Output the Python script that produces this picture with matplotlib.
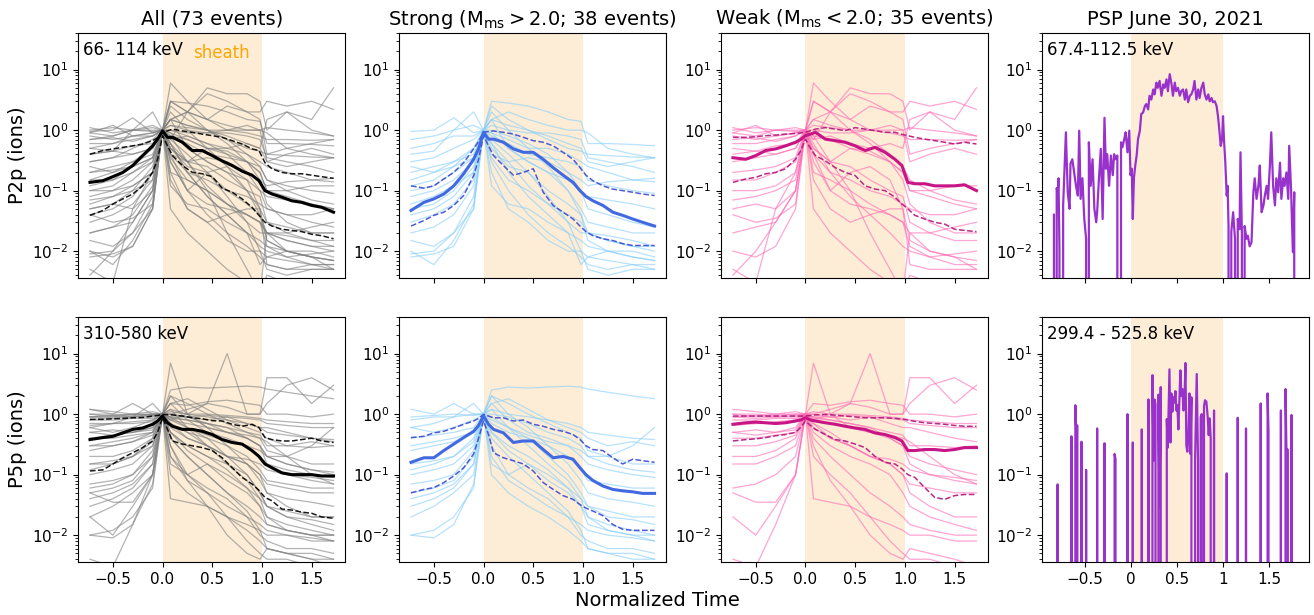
import numpy as np
import matplotlib
matplotlib.use('Agg')
import matplotlib.pyplot as plt

# =============================================================================
# Data (normalized time, intensity normalized at shock)
# =============================================================================

# grid used for the individual event traces
t_ev = [-0.73, -0.5, -0.3, -0.1, 0.0, 0.08, 0.25, 0.45, 0.65, 0.85, 0.98,
        1.05, 1.25, 1.5, 1.72]

# P2p, strong events
p2_strong = [
    [0.95, 1.0, 1.6, 0.9, 1.0, 3.0, 2.8, 2.5, 2.0, 1.5, 1.4, 0.6, 0.6, 0.58, 0.55],
    [0.3, 0.35, 0.5, 0.7, 1.0, 1.5, 1.2, 1.0, 0.8, 0.6, 0.5, 0.3, 0.25, 0.3, 0.35],
    [0.12, 0.15, 0.25, 0.5, 1.0, 0.8, 0.6, 0.4, 0.35, 0.3, 0.25, 0.15, 0.12, 0.1, 0.09],
    [0.05, 0.06, 0.1, 0.25, 1.0, 0.5, 0.25, 0.2, 0.1, 0.06, 0.04, 0.02, 0.015, 0.012, 0.01],
    [0.008, 0.009, 0.012, 0.05, 1.0, 0.3, 0.1, 0.04, 0.02, 0.012, 0.008, 0.006, 0.005, 0.006, 0.005],
    [0.04, 0.05, 0.08, 0.2, 1.0, 0.9, 0.5, 0.3, 0.2, 0.15, 0.1, 0.05, 0.04, 0.03, 0.025],
    [0.08, 0.1, 0.15, 0.3, 1.0, 2.0, 1.0, 0.5, 0.25, 0.1, 0.05, 0.03, 0.025, 0.02, 0.02],
    [0.02, 0.025, 0.04, 0.12, 1.0, 0.6, 0.2, 0.08, 0.04, 0.02, 0.006, 0.008, 0.01, 0.008, 0.007],
    [0.5, 0.6, 0.8, 0.8, 1.0, 1.2, 1.0, 0.9, 0.9, 0.8, 0.7, 0.35, 0.3, 0.25, 0.2],
    [0.015, 0.012, 0.02, 0.08, 1.0, 0.2, 0.05, 0.03, 0.015, 0.01, 0.01, 0.008, 0.007, 0.006, 0.006],
    [0.2, 0.25, 0.3, 0.4, 1.0, 1.0, 0.8, 0.6, 0.4, 0.2, 0.1, 0.08, 0.07, 0.06, 0.05],
    [0.06, 0.08, 0.12, 0.2, 1.0, 0.4, 0.3, 0.35, 0.3, 0.2, 0.15, 0.12, 0.14, 0.15, 0.16],
    [0.01, 0.006, 0.015, 0.06, 1.0, 0.12, 0.06, 0.05, 0.03, 0.02, 0.015, 0.012, 0.01, 0.01, 0.008],
    [0.4, 0.45, 1.0, 1.2, 1.0, 2.5, 1.5, 1.0, 0.7, 0.5, 0.45, 0.4, 0.38, 0.36, 0.35],
    [0.7, 0.8, 1.0, 2.0, 1.0, 1.5, 2.0, 1.5, 1.2, 1.0, 1.0, 0.9, 0.5, 0.4, 0.35],
    [0.25, 0.2, 0.3, 0.5, 1.0, 0.7, 0.4, 0.2, 0.08, 0.03, 0.01, 0.005, 0.004, 0.005, 0.005],
    [0.03, 0.04, 0.06, 0.15, 1.0, 0.35, 0.15, 0.1, 0.06, 0.04, 0.03, 0.02, 0.015, 0.012, 0.012],
    [0.1, 0.12, 0.2, 0.35, 1.0, 0.6, 0.3, 0.12, 0.06, 0.03, 0.02, 0.02, 0.018, 0.015, 0.012],
    [0.009, 0.01, 0.02, 0.05, 1.0, 1.5, 0.5, 0.3, 0.2, 0.1, 0.04, 0.015, 0.01, 0.008, 0.007],
    [0.15, 0.2, 0.25, 0.35, 1.0, 0.9, 0.7, 0.5, 0.5, 0.4, 0.3, 0.25, 0.2, 0.15, 0.14],
]

# P2p, weak events
p2_weak = [
    [1.0, 1.1, 1.0, 1.1, 1.0, 1.2, 1.1, 1.0, 1.0, 0.9, 0.8, 0.7, 0.7, 0.68, 0.7],
    [0.8, 0.7, 0.8, 0.9, 1.0, 3.0, 2.0, 4.0, 3.0, 2.0, 2.0, 3.0, 2.5, 3.0, 2.2],
    [0.3, 0.35, 0.4, 0.5, 1.0, 0.5, 0.3, 0.25, 0.15, 0.1, 0.08, 0.03, 0.02, 0.015, 0.015],
    [0.15, 0.15, 0.2, 0.3, 1.0, 0.15, 0.05, 0.03, 0.04, 0.05, 0.05, 0.006, 0.005, 0.005, 0.005],
    [0.04, 0.03, 0.035, 0.06, 1.0, 0.4, 0.1, 0.06, 0.05, 0.04, 0.03, 0.02, 0.02, 0.025, 0.03],
    [0.005, 0.003, 0.05, 0.2, 1.0, 0.8, 0.3, 0.1, 0.02, 0.005, 0.002, 0.02, 0.01, 0.008, 0.005],
    [0.7, 0.75, 0.65, 0.8, 1.0, 1.0, 0.9, 0.9, 1.0, 1.0, 1.0, 1.1, 1.0, 0.9, 0.8],
    [0.07, 0.08, 0.1, 0.15, 1.0, 0.6, 0.2, 0.15, 0.1, 0.08, 0.06, 0.05, 0.04, 0.04, 0.05],
    [0.5, 0.45, 0.55, 0.6, 1.0, 0.8, 0.7, 0.5, 0.45, 0.3, 0.2, 0.1, 0.1, 0.12, 0.12],
    [1.1, 0.9, 1.0, 0.95, 1.0, 6.0, 3.0, 1.5, 1.0, 1.2, 1.0, 0.3, 0.4, 0.5, 0.4],
    [0.2, 0.22, 0.25, 0.35, 1.0, 1.5, 1.2, 1.0, 0.7, 0.4, 0.25, 0.15, 0.1, 0.07, 0.06],
    [0.02, 0.025, 0.03, 0.1, 1.0, 0.3, 0.1, 0.2, 0.25, 0.15, 0.05, 0.015, 0.01, 0.008, 0.007],
    [0.9, 1.2, 0.8, 0.9, 1.0, 0.7, 2.0, 5.0, 4.0, 4.0, 3.0, 1.0, 2.0, 1.5, 5.0],
    [0.004, 0.01, 0.03, 0.1, 1.0, 0.05, 0.02, 0.01, 0.005, 0.003, 0.002, 0.004, 0.003, 0.002, 0.002],
    [0.6, 0.6, 0.7, 0.8, 1.0, 1.5, 2.0, 1.5, 2.5, 2.0, 1.5, 0.4, 0.5, 0.6, 0.7],
    [0.1, 0.1, 0.12, 0.2, 1.0, 0.5, 0.3, 0.5, 0.4, 0.3, 0.2, 0.1, 0.08, 0.06, 0.05],
    [0.01, 0.008, 0.012, 0.05, 1.0, 0.4, 0.2, 0.08, 0.04, 0.02, 0.012, 0.01, 0.008, 0.009, 0.01],
    [0.9, 0.8, 1.0, 1.0, 1.0, 3.0, 2.0, 1.0, 0.6, 0.3, 0.15, 0.06, 0.03, 0.02, 0.02],
    [0.4, 0.45, 0.4, 0.5, 1.0, 0.7, 0.8, 0.6, 0.5, 0.6, 0.5, 1.5, 2.0, 1.0, 0.8],
    [0.05, 0.06, 0.05, 0.1, 1.0, 0.2, 0.15, 0.1, 0.06, 0.04, 0.03, 0.012, 0.008, 0.006, 0.006],
]

# P5p, strong events
p5_strong = [
    [1.2, 1.0, 1.5, 1.0, 1.0, 2.5, 2.8, 2.7, 2.8, 2.9, 2.8, 2.6, 2.3, 2.0, 1.8],
    [0.9, 0.95, 1.0, 0.95, 1.0, 1.2, 1.0, 0.9, 0.8, 0.7, 0.6, 0.5, 0.45, 0.4, 0.38],
    [0.4, 0.45, 0.5, 0.6, 1.0, 0.7, 0.5, 0.4, 0.3, 0.2, 0.12, 0.08, 0.07, 0.06, 0.06],
    [0.15, 0.17, 0.2, 0.35, 1.0, 0.5, 0.3, 0.2, 0.12, 0.06, 0.03, 0.02, 0.015, 0.012, 0.01],
    [0.05, 0.06, 0.08, 0.2, 1.0, 0.3, 0.1, 0.06, 0.04, 0.02, 0.01, 0.008, 0.006, 0.006, 0.005],
    [0.01, 0.009, 0.015, 0.07, 1.0, 0.2, 0.08, 0.05, 0.03, 0.02, 0.015, 0.012, 0.01, 0.009, 0.008],
    [0.03, 0.04, 0.06, 0.15, 1.0, 2.0, 1.0, 0.6, 0.3, 0.15, 0.08, 0.05, 0.04, 0.035, 0.03],
    [0.6, 0.7, 0.9, 1.5, 1.0, 1.5, 1.8, 1.2, 0.8, 0.6, 0.5, 0.4, 0.3, 0.35, 0.3],
    [0.1, 0.12, 0.15, 0.3, 1.0, 0.8, 0.6, 0.4, 0.2, 0.1, 0.05, 0.03, 0.02, 0.018, 0.015],
    [0.02, 0.03, 0.05, 0.1, 1.0, 0.15, 0.1, 0.15, 0.1, 0.06, 0.04, 0.03, 0.025, 0.02, 0.02],
    [0.25, 0.3, 0.35, 0.5, 1.0, 1.0, 0.9, 0.7, 0.5, 0.4, 0.3, 0.2, 0.15, 0.12, 0.11],
    [0.07, 0.08, 0.1, 0.25, 1.0, 0.4, 0.2, 0.1, 0.05, 0.025, 0.012, 0.006, 0.005, 0.004, 0.004],
    [0.8, 0.9, 0.9, 1.0, 1.0, 2.0, 1.5, 1.0, 0.7, 0.5, 0.4, 0.25, 0.2, 0.15, 0.15],
    [0.3, 0.35, 0.4, 0.5, 1.0, 1.2, 0.6, 0.3, 0.15, 0.08, 0.04, 0.02, 0.012, 0.01, 0.008],
    [0.04, 0.05, 0.07, 0.15, 1.0, 0.5, 0.25, 0.15, 0.08, 0.05, 0.03, 0.015, 0.012, 0.01, 0.01],
    [0.12, 0.15, 0.2, 0.4, 1.0, 1.5, 0.8, 0.5, 0.4, 0.3, 0.2, 0.15, 0.12, 0.1, 0.09],
    [0.6, 0.5, 0.6, 0.8, 1.0, 0.9, 0.6, 0.45, 0.35, 0.3, 0.25, 0.2, 0.2, 0.3, 0.6],
    [0.01, 0.012, 0.02, 0.06, 1.0, 0.1, 0.05, 0.03, 0.02, 0.012, 0.008, 0.006, 0.005, 0.005, 0.004],
]

# P5p, weak events
p5_weak = [
    [1.2, 1.1, 1.0, 1.1, 1.0, 1.5, 1.4, 1.6, 1.7, 1.5, 1.4, 1.0, 1.0, 0.9, 1.0],
    [0.9, 0.95, 0.9, 0.9, 1.0, 7.0, 1.0, 1.5, 10.0, 1.0, 1.0, 4.0, 4.0, 1.5, 3.0],
    [0.8, 0.8, 0.85, 0.85, 1.0, 0.9, 0.8, 0.7, 0.6, 0.5, 0.45, 0.3, 0.3, 0.28, 0.3],
    [0.5, 0.55, 0.5, 0.6, 1.0, 0.7, 0.5, 0.3, 0.2, 0.15, 0.1, 0.07, 0.06, 0.05, 0.05],
    [0.3, 0.3, 0.35, 0.45, 1.0, 0.5, 0.3, 0.2, 0.15, 0.1, 0.05, 0.03, 0.02, 0.015, 0.012],
    [0.05, 0.035, 0.035, 0.1, 1.0, 0.04, 0.035, 0.03, 0.02, 0.015, 0.012, 0.01, 0.01, 0.008, 0.008],
    [0.004, 0.003, 0.015, 0.1, 1.0, 0.2, 0.1, 0.05, 0.02, 0.008, 0.005, 0.004, 0.004, 0.003, 0.003],
    [0.15, 0.15, 0.2, 0.3, 1.0, 0.6, 0.4, 0.3, 0.2, 0.18, 0.15, 0.12, 0.1, 0.09, 0.08],
    [1.0, 1.0, 0.95, 1.0, 1.0, 1.1, 1.0, 1.0, 0.95, 0.9, 0.85, 0.8, 0.75, 0.7, 0.7],
    [0.65, 0.7, 0.7, 0.75, 1.0, 0.85, 0.8, 0.7, 0.6, 0.4, 0.3, 0.2, 0.15, 0.12, 0.1],
    [0.02, 0.01, 0.03, 0.1, 1.0, 0.3, 0.08, 0.03, 0.01, 0.005, 0.004, 0.006, 0.005, 0.004, 0.003],
    [0.4, 0.4, 0.45, 0.5, 1.0, 0.9, 0.9, 0.8, 0.9, 0.7, 0.6, 0.6, 0.5, 0.4, 0.35],
    [1.0, 0.9, 1.0, 1.0, 1.0, 1.0, 1.2, 1.5, 1.3, 1.0, 1.0, 1.5, 3.0, 4.0, 2.5],
    [0.7, 0.7, 0.75, 0.8, 1.0, 0.8, 0.7, 0.6, 0.5, 0.45, 0.4, 0.35, 0.2, 0.1, 0.07],
    [0.2, 0.2, 0.25, 0.4, 1.0, 0.4, 0.2, 0.1, 0.05, 0.03, 0.02, 0.015, 0.012, 0.01, 0.01],
    [0.9, 0.85, 0.9, 0.95, 1.0, 1.0, 0.9, 0.95, 0.9, 0.85, 0.8, 0.7, 0.65, 0.6, 0.6],
    [0.06, 0.07, 0.1, 0.2, 1.0, 0.7, 0.4, 0.3, 0.2, 0.15, 0.1, 0.05, 0.03, 0.02, 0.02],
    [0.5, 0.45, 0.5, 0.55, 1.0, 0.8, 1.0, 0.6, 0.5, 0.4, 0.3, 0.15, 0.1, 0.08, 0.07],
]

# grid used for median / quartile curves
t_st = [-0.73, -0.6, -0.5, -0.4, -0.3, -0.2, -0.1, -0.05, 0.0, 0.05, 0.1, 0.2,
        0.3, 0.4, 0.5, 0.6, 0.7, 0.8, 0.9, 0.97, 1.03, 1.1, 1.2, 1.3, 1.4, 1.5,
        1.6, 1.72]

p2_all_med = [0.137, 0.146, 0.17, 0.2, 0.26, 0.38, 0.55, 0.71, 0.97, 0.76, 0.76, 0.63, 0.46, 0.46,
              0.38, 0.31, 0.26, 0.21, 0.18, 0.146, 0.10, 0.088, 0.078, 0.068, 0.064, 0.057, 0.053, 0.044]
p2_all_q75 = [0.40, 0.46, 0.49, 0.52, 0.55, 0.59, 0.67, 0.75, 0.92, 0.97, 1.04, 0.97, 0.92, 0.86,
              0.81, 0.76, 0.67, 0.59, 0.49, 0.46, 0.29, 0.23, 0.20, 0.19, 0.19, 0.18, 0.17, 0.16]
p2_all_q25 = [0.039, 0.047, 0.06, 0.073, 0.088, 0.12, 0.2, 0.33, 0.81, 0.55, 0.38, 0.26, 0.2, 0.19,
              0.17, 0.11, 0.094, 0.073, 0.053, 0.039, 0.03, 0.026, 0.023, 0.022, 0.021, 0.019, 0.018, 0.016]

p2_str_med = [0.047, 0.064, 0.073, 0.088, 0.12, 0.19, 0.33, 0.49, 0.92, 0.71, 0.71, 0.63, 0.49, 0.43,
              0.43, 0.33, 0.24, 0.18, 0.137, 0.1, 0.08, 0.068, 0.057, 0.044, 0.039, 0.034, 0.030, 0.026]
p2_str_q75 = [0.12, 0.11, 0.12, 0.156, 0.2, 0.29, 0.49, 0.65, 0.92, 0.95, 0.97, 0.92, 0.86, 0.76,
              0.67, 0.63, 0.55, 0.43, 0.33, 0.24, 0.18, 0.146, 0.12, 0.106, 0.1, 0.094, 0.088, 0.083]
p2_str_q25 = [0.026, 0.032, 0.039, 0.044, 0.057, 0.083, 0.177, 0.33, 0.81, 0.55, 0.38, 0.26, 0.18, 0.2,
              0.23, 0.094, 0.057, 0.044, 0.034, 0.026, 0.021, 0.018, 0.016, 0.015, 0.0133, 0.0124, 0.0124, 0.0124]

p2_weak_med = [0.35, 0.33, 0.38, 0.46, 0.49, 0.55, 0.63, 0.7, 0.81, 0.86, 0.92, 0.71, 0.67, 0.63,
               0.55, 0.46, 0.52, 0.43, 0.33, 0.26, 0.137, 0.13, 0.13, 0.12, 0.12, 0.12, 0.125, 0.1]
p2_weak_q75 = [0.76, 0.76, 0.78, 0.81, 0.83, 0.86, 0.88, 0.9, 0.92, 0.98, 1.04, 1.1, 1.04, 0.98,
               1.1, 1.04, 0.98, 0.92, 0.92, 0.85, 0.81, 0.76, 0.71, 0.67, 0.63, 0.59, 0.63, 0.59]
p2_weak_q25 = [0.137, 0.156, 0.166, 0.19, 0.2, 0.23, 0.33, 0.45, 0.71, 0.5, 0.38, 0.31, 0.24, 0.2,
               0.177, 0.12, 0.106, 0.1, 0.078, 0.06, 0.05, 0.039, 0.034, 0.03, 0.028, 0.023, 0.022, 0.021]

p5_all_med = [0.38, 0.41, 0.43, 0.49, 0.56, 0.59, 0.68, 0.77, 0.93, 0.72, 0.63, 0.56, 0.56, 0.52,
              0.46, 0.38, 0.34, 0.32, 0.25, 0.2, 0.15, 0.13, 0.107, 0.10, 0.10, 0.10, 0.095, 0.095]
p5_all_q75 = [0.82, 0.82, 0.84, 0.85, 0.87, 0.88, 0.93, 0.95, 0.99, 0.98, 0.97, 0.93, 0.87, 0.84,
              0.78, 0.77, 0.68, 0.63, 0.68, 0.6, 0.41, 0.38, 0.36, 0.36, 0.38, 0.40, 0.36, 0.34]
p5_all_q25 = [0.115, 0.12, 0.15, 0.19, 0.23, 0.28, 0.36, 0.5, 0.87, 0.56, 0.36, 0.32, 0.3, 0.28,
              0.25, 0.19, 0.13, 0.09, 0.07, 0.055, 0.042, 0.037, 0.027, 0.026, 0.024, 0.023, 0.02, 0.019]

p5_str_med = [0.16, 0.19, 0.19, 0.25, 0.32, 0.41, 0.52, 0.65, 0.93, 0.68, 0.56, 0.49, 0.34, 0.36,
              0.36, 0.26, 0.19, 0.2, 0.18, 0.13, 0.1, 0.08, 0.065, 0.057, 0.054, 0.052, 0.049, 0.049]
p5_str_q75 = [0.41, 0.43, 0.49, 0.52, 0.59, 0.68, 0.77, 0.85, 0.99, 0.93, 0.87, 0.87, 0.77, 0.8,
              0.68, 0.63, 0.56, 0.52, 0.46, 0.38, 0.3, 0.26, 0.25, 0.19, 0.15, 0.18, 0.17, 0.16]
p5_str_q25 = [0.05, 0.057, 0.061, 0.074, 0.095, 0.13, 0.22, 0.4, 0.77, 0.46, 0.23, 0.19, 0.17, 0.15,
              0.115, 0.074, 0.057, 0.045, 0.039, 0.032, 0.028, 0.025, 0.021, 0.015, 0.0125, 0.012, 0.012, 0.012]

p5_weak_med = [0.68, 0.72, 0.74, 0.72, 0.7, 0.72, 0.77, 0.8, 0.87, 0.8, 0.77, 0.72, 0.68, 0.63,
               0.59, 0.56, 0.49, 0.46, 0.41, 0.36, 0.25, 0.25, 0.26, 0.26, 0.25, 0.26, 0.28, 0.28]
p5_weak_q75 = [0.93, 0.93, 0.93, 0.93, 0.93, 0.93, 0.93, 0.93, 0.93, 0.95, 0.97, 0.99, 0.96, 0.93,
               0.9, 0.87, 0.87, 0.87, 0.85, 0.83, 0.8, 0.76, 0.72, 0.7, 0.68, 0.65, 0.63, 0.63]
p5_weak_q25 = [0.36, 0.38, 0.39, 0.41, 0.44, 0.46, 0.5, 0.6, 0.77, 0.65, 0.56, 0.46, 0.38, 0.36,
               0.32, 0.28, 0.2, 0.16, 0.15, 0.125, 0.1, 0.09, 0.061, 0.042, 0.039, 0.045, 0.047, 0.047]

# PSP June 30, 2021 event, 67.4-112.5 keV
psp_lo_t = [-0.84, -0.83, -0.81, -0.80, -0.79, -0.78, -0.76, -0.74, -0.71, -0.69, -0.67, -0.66,
            -0.64, -0.62, -0.60, -0.58, -0.565, -0.55, -0.53, -0.51, -0.49, -0.475, -0.46, -0.44,
            -0.42, -0.40, -0.38, -0.37, -0.35, -0.33, -0.31, -0.29, -0.275, -0.26, -0.24, -0.22,
            -0.20, -0.185, -0.17, -0.15, -0.13, -0.11, -0.095, -0.075, -0.06, -0.04, -0.02, -0.007,
            0.007, 0.018, 0.03, 0.045, 0.06, 0.075, 0.095, 0.11, 0.13, 0.15, 0.165, 0.185, 0.20,
            0.22, 0.24, 0.255, 0.275, 0.29, 0.31, 0.33, 0.35, 0.365, 0.385, 0.40, 0.42, 0.44,
            0.455, 0.475, 0.49, 0.51, 0.53, 0.545, 0.565, 0.585, 0.60, 0.62, 0.64, 0.655, 0.675,
            0.69, 0.71, 0.73, 0.745, 0.765, 0.785, 0.80, 0.82, 0.84, 0.855, 0.875, 0.89, 0.91,
            0.93, 0.945, 0.96, 0.975, 0.99, 1.0, 1.01, 1.025, 1.04, 1.05, 1.06, 1.075, 1.09, 1.11,
            1.13, 1.14, 1.16, 1.18, 1.19, 1.205, 1.22, 1.235, 1.255, 1.27, 1.29, 1.31, 1.33, 1.345,
            1.365, 1.385, 1.40, 1.42, 1.44, 1.455, 1.475, 1.49, 1.51, 1.525, 1.545, 1.565, 1.58,
            1.60, 1.62, 1.635, 1.655, 1.67, 1.69, 1.71, 1.72, 1.74, 1.76, 1.775, 1.79]
psp_lo_v = [0.04, 0, 0.11, 0.09, 0.16, 0.01, 0, 0.057, 0.92, 0.094, 0.05, 0.28,
            0.33, 0.2, 0.12, 0.083, 0.98, 0.073, 0.16, 0.034, 0.016, 0, 0.63, 0.12,
            0.33, 0.05, 0.03, 0.044, 0.16, 0.49, 0.034, 1.6, 0.23, 0.40, 0.12, 0.38,
            0.18, 0.40, 0.33, 0.38, 0, 0.63, 0.52, 0.71, 0.92, 0.43, 0.98, 0.18,
            0.23, 0.034, 0.16, 0.26, 0.38, 0.71, 0.98, 1.84, 1.96, 2.5, 2.7, 2.2, 3.7,
            3.2, 4.7, 3.9, 6.1, 5.0, 6.5, 3.7, 5.7, 5.0, 6.9, 4.4, 8.4, 5.7,
            3.7, 6.1, 4.4, 5.0, 3.7, 4.4, 4.7, 3.2, 4.7, 2.9, 3.7, 3.9, 4.7,
            6.5, 3.2, 4.7, 3.4, 5.0, 6.1, 4.0, 3.2, 3.9, 3.0, 3.4, 2.9, 3.0,
            2.5, 1.7, 1.0, 0.55, 0.71, 1.7, 0.71, 0.29, 0.083, 0.12, 0.026, 0, 0.021, 0.044,
            0.016, 0, 0.034, 0.023, 0.43, 0.021, 0, 0.026, 0.016, 0.018, 0.012, 0.014, 0.094, 0.16,
            0.073, 0.12, 0.26, 0.044, 0.057, 0.083, 0.12, 0.073, 0.26, 0.92, 0.12, 0.057, 0.16,
            0.094, 0.29, 0.073, 0.16, 0.12, 0.2, 0.073, 0.55, 0.11, 0.0096, 0.094, 0]

# PSP June 30, 2021 event, 299.4-525.8 keV
psp_hi_t = [-0.84, -0.80, -0.795, -0.655, -0.65, -0.645, -0.615, -0.607, -0.60, -0.585, -0.58,
            -0.545, -0.54, -0.535, -0.495, -0.49, -0.485, -0.375, -0.37, -0.365, -0.295, -0.29,
            -0.285, -0.185, -0.18, -0.17, -0.165, -0.045, -0.04, -0.035, 0.013, 0.018, 0.023,
            0.111, 0.116, 0.121, 0.183, 0.188, 0.20, 0.227, 0.232, 0.243, 0.254, 0.265, 0.28,
            0.292, 0.297, 0.308, 0.322, 0.33, 0.383, 0.388, 0.399, 0.417, 0.428, 0.438, 0.449,
            0.46, 0.471, 0.482, 0.493, 0.503, 0.514, 0.525, 0.536, 0.547, 0.558, 0.569, 0.58,
            0.591, 0.601, 0.612, 0.623, 0.634, 0.645, 0.656, 0.667, 0.69, 0.696, 0.714, 0.728,
            0.735, 0.752, 0.757, 0.768, 0.775, 0.79, 0.793, 0.804, 0.819, 0.833, 0.844, 0.855,
            0.866, 0.875, 0.897, 0.902, 0.907, 1.035, 1.04, 1.045, 1.155, 1.16, 1.165, 1.245,
            1.25, 1.255, 1.405, 1.41, 1.415, 1.48, 1.485, 1.495, 1.50, 1.625, 1.63, 1.635,
            1.675, 1.68, 1.69, 1.705, 1.71, 1.74, 1.745, 1.75]
psp_hi_v = [0, 0.069, 0, 0, 0.43, 0, 0, 1.4, 0.65, 0.65, 0,
            0, 0.35, 0, 0, 0.12, 0, 0, 0.58, 0, 0, 0.33,
            0, 0, 0.22, 0.18, 0, 0, 1.0, 0, 0, 0.34, 0,
            0, 0.56, 0, 0, 1.75, 0, 0, 4.4, 0.17, 1.75, 1.45, 0,
            0, 2.1, 0.029, 2.8, 0, 0, 0.83, 0.28, 5.5, 0.34, 2.2, 1.1,
            1.9, 1.55, 2.4, 1.15, 1.4, 0.56, 1.7, 5.3, 2.0, 2.6, 1.15, 1.7,
            7.0, 0.3, 0.24, 0.45, 2.2, 0.22, 1.9, 0, 0, 0.18, 4.6, 0.16,
            0, 0, 0.9, 1.0, 0, 0, 1.35, 1.7, 1.6, 0.9, 0.45, 0.85,
            0.4, 0, 0, 1.15, 0, 0, 0.105, 0, 0, 0.87, 0, 0,
            0.58, 0, 0, 1.5, 0, 0, 2.2, 0.5, 0, 0, 1.15, 0,
            0, 2.6, 0.26, 0.26, 0, 0, 0.97, 0]

titles = ['All (73 events)', r'Strong ($\mathrm{M_{ms}}>2.0$; 38 events)',
          r'Weak ($\mathrm{M_{ms}}<2.0$; 35 events)', 'PSP June 30, 2021']
ylabels = ['P2p (ions)', 'P5p (ions)']
energy_labels = ['66- 114 keV', '310-580 keV']
psp_labels = ['67.4-112.5 keV', '299.4 - 525.8 keV']

# =============================================================================
# Plot
# =============================================================================

sheath_col = '#fdedd6'
thin = {'all': 'grey', 'strong': 'lightskyblue', 'weak': 'hotpink'}
medc = {'all': 'black', 'strong': 'royalblue', 'weak': 'mediumvioletred'}
qc = {'all': 'black', 'strong': '#3b48d0', 'weak': '#b0147a'}

rows = [
    {'strong': p2_strong, 'weak': p2_weak,
     'stats': {'all': (p2_all_med, p2_all_q25, p2_all_q75),
               'strong': (p2_str_med, p2_str_q25, p2_str_q75),
               'weak': (p2_weak_med, p2_weak_q25, p2_weak_q75)},
     'psp': (psp_lo_t, psp_lo_v)},
    {'strong': p5_strong, 'weak': p5_weak,
     'stats': {'all': (p5_all_med, p5_all_q25, p5_all_q75),
               'strong': (p5_str_med, p5_str_q25, p5_str_q75),
               'weak': (p5_weak_med, p5_weak_q25, p5_weak_q75)},
     'psp': (psp_hi_t, psp_hi_v)},
]

fig = plt.figure(figsize=(13.14, 6.15), dpi=100)
lefts = [0.0594, 0.3037, 0.5487, 0.7930]
bottoms = [0.548, 0.0862]
w, h = 0.2035, 0.398

for r, row in enumerate(rows):
    for c in range(4):
        ax = fig.add_axes([lefts[c], bottoms[r], w, h])
        ax.axvspan(0, 1, color=sheath_col, zorder=0, lw=0)
        ax.set_yscale('log')
        if c < 3:
            group = ['all', 'strong', 'weak'][c]
            if group == 'all':
                evs = row['strong'] + row['weak']
            else:
                evs = row[group]
            for ev in evs:
                ax.plot(t_ev, ev, color=thin[group], lw=0.9, alpha=0.6)
            med, q25, q75 = row['stats'][group]
            ax.plot(t_st, q75, '--', color=qc[group], lw=1.1, alpha=0.9)
            ax.plot(t_st, q25, '--', color=qc[group], lw=1.1, alpha=0.9)
            ax.plot(t_st, med, '-', color=medc[group], lw=2.2)
            ax.set_xlim(-0.85, 1.84)
            ax.set_xticks([-0.5, 0, 0.5, 1, 1.5])
            ax.set_xticklabels(['\u22120.5', '0.0', '0.5', '1.0', '1.5'])
        else:
            pt, pv = row['psp']
            ax.plot(pt, pv, color='darkorchid', lw=1.6)
            ax.set_xlim(-0.97, 1.94)
            ax.set_xticks([-0.5, 0, 0.5, 1, 1.5])
            ax.set_xticklabels(['\u22120.5', '0', '0.5', '1', '1.5'])
            ax.text(0.02, 0.97, psp_labels[r], transform=ax.transAxes,
                    va='top', ha='left', fontsize=12)
        ax.set_ylim(0.0036, 40)
        ax.tick_params(labelsize=11)
        if r == 0:
            ax.set_title(titles[c], fontsize=14)
            ax.tick_params(labelbottom=False)
        if c == 0:
            ax.set_ylabel(ylabels[r], fontsize=14)
            ax.text(0.02, 0.97, energy_labels[r], transform=ax.transAxes,
                    va='top', ha='left', fontsize=12)
            if r == 0:
                ax.text(0.59, 0.92, 'sheath', transform=ax.get_xaxis_transform(),
                        color='orange', fontsize=12, ha='center', va='center')

fig.text(0.5, 0.015, 'Normalized Time', ha='center', fontsize=14)
plt.savefig('out.png', dpi=100)
